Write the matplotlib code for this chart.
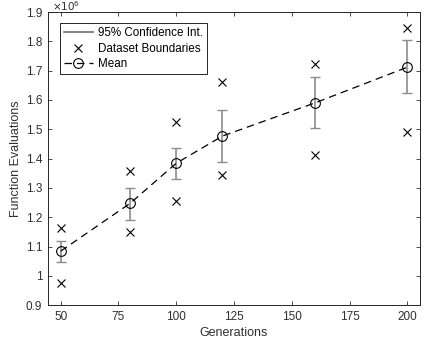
import matplotlib
matplotlib.use("Agg")
import matplotlib.pyplot as plt
from matplotlib.ticker import FuncFormatter

plt.rcParams['font.family'] = ['Liberation Sans', 'DejaVu Sans']

# data (values in units of 1e6)
generations = [50, 80, 100, 120, 160, 200]
mean_evals = [1.084, 1.247, 1.384, 1.477, 1.590, 1.712]
ci_upper = [1.119, 1.300, 1.437, 1.565, 1.677, 1.803]
ci_lower = [1.046, 1.191, 1.329, 1.388, 1.506, 1.623]
bound_max = [1.164, 1.358, 1.526, 1.661, 1.723, 1.844]
bound_min = [0.974, 1.148, 1.256, 1.344, 1.413, 1.491]

fig = plt.figure(figsize=(4.24, 3.44), dpi=100)
ax = fig.add_axes([0.113, 0.113, 0.878, 0.852])

err_lo = [m - l for m, l in zip(mean_evals, ci_lower)]
err_hi = [u - m for m, u in zip(mean_evals, ci_upper)]
ax.errorbar(generations, mean_evals, yerr=[err_lo, err_hi], fmt='none',
            ecolor='#8c8c8c', elinewidth=1.2, capsize=3.5, capthick=1.0)
ax.plot([], [], color='#6e6e6e', lw=1.2, label='95% Confidence Int.')

ax.plot(generations, bound_max, 'x', color='k', ms=5.5, mew=0.8,
        label='Dataset Boundaries')
ax.plot(generations, bound_min, 'x', color='k', ms=5.5, mew=0.8)

ax.plot(generations, mean_evals, '--o', color='k', lw=0.9, ms=7,
        mfc='none', mew=0.8, dashes=(6, 4), label='Mean')

ax.set_xlim(44.5, 205.5)
ax.set_ylim(0.9, 1.9)
ax.set_xticks([50, 75, 100, 125, 150, 175, 200])
ax.set_yticks([0.9, 1.0, 1.1, 1.2, 1.3, 1.4, 1.5, 1.6, 1.7, 1.8, 1.9])
ax.yaxis.set_major_formatter(FuncFormatter(lambda v, p: '%g' % round(v, 2)))
ax.tick_params(direction='in', length=3, width=0.6, top=True, right=True,
               labelsize=8.5, colors='#303030', pad=4)
for s in ax.spines.values():
    s.set_linewidth(0.7)
    s.set_color('#262626')

ax.set_xlabel('Generations', fontsize=9, color='#303030', labelpad=3)
ax.set_ylabel('Function Evaluations', fontsize=9, color='#303030', labelpad=3)
ax.text(0.01, 0.998, r'$\times 10^6$', transform=ax.transAxes, fontsize=7.5,
        color='#303030', ha='left', va='bottom')

leg = ax.legend(loc='upper left', bbox_to_anchor=(0.032, 0.962), fontsize=8.4,
                fancybox=False, edgecolor='#262626', framealpha=1,
                borderpad=0.35, labelspacing=0.3, handlelength=2.5,
                handletextpad=0.4, borderaxespad=0)
leg.get_frame().set_linewidth(0.7)

fig.savefig('out.png', dpi=100)
